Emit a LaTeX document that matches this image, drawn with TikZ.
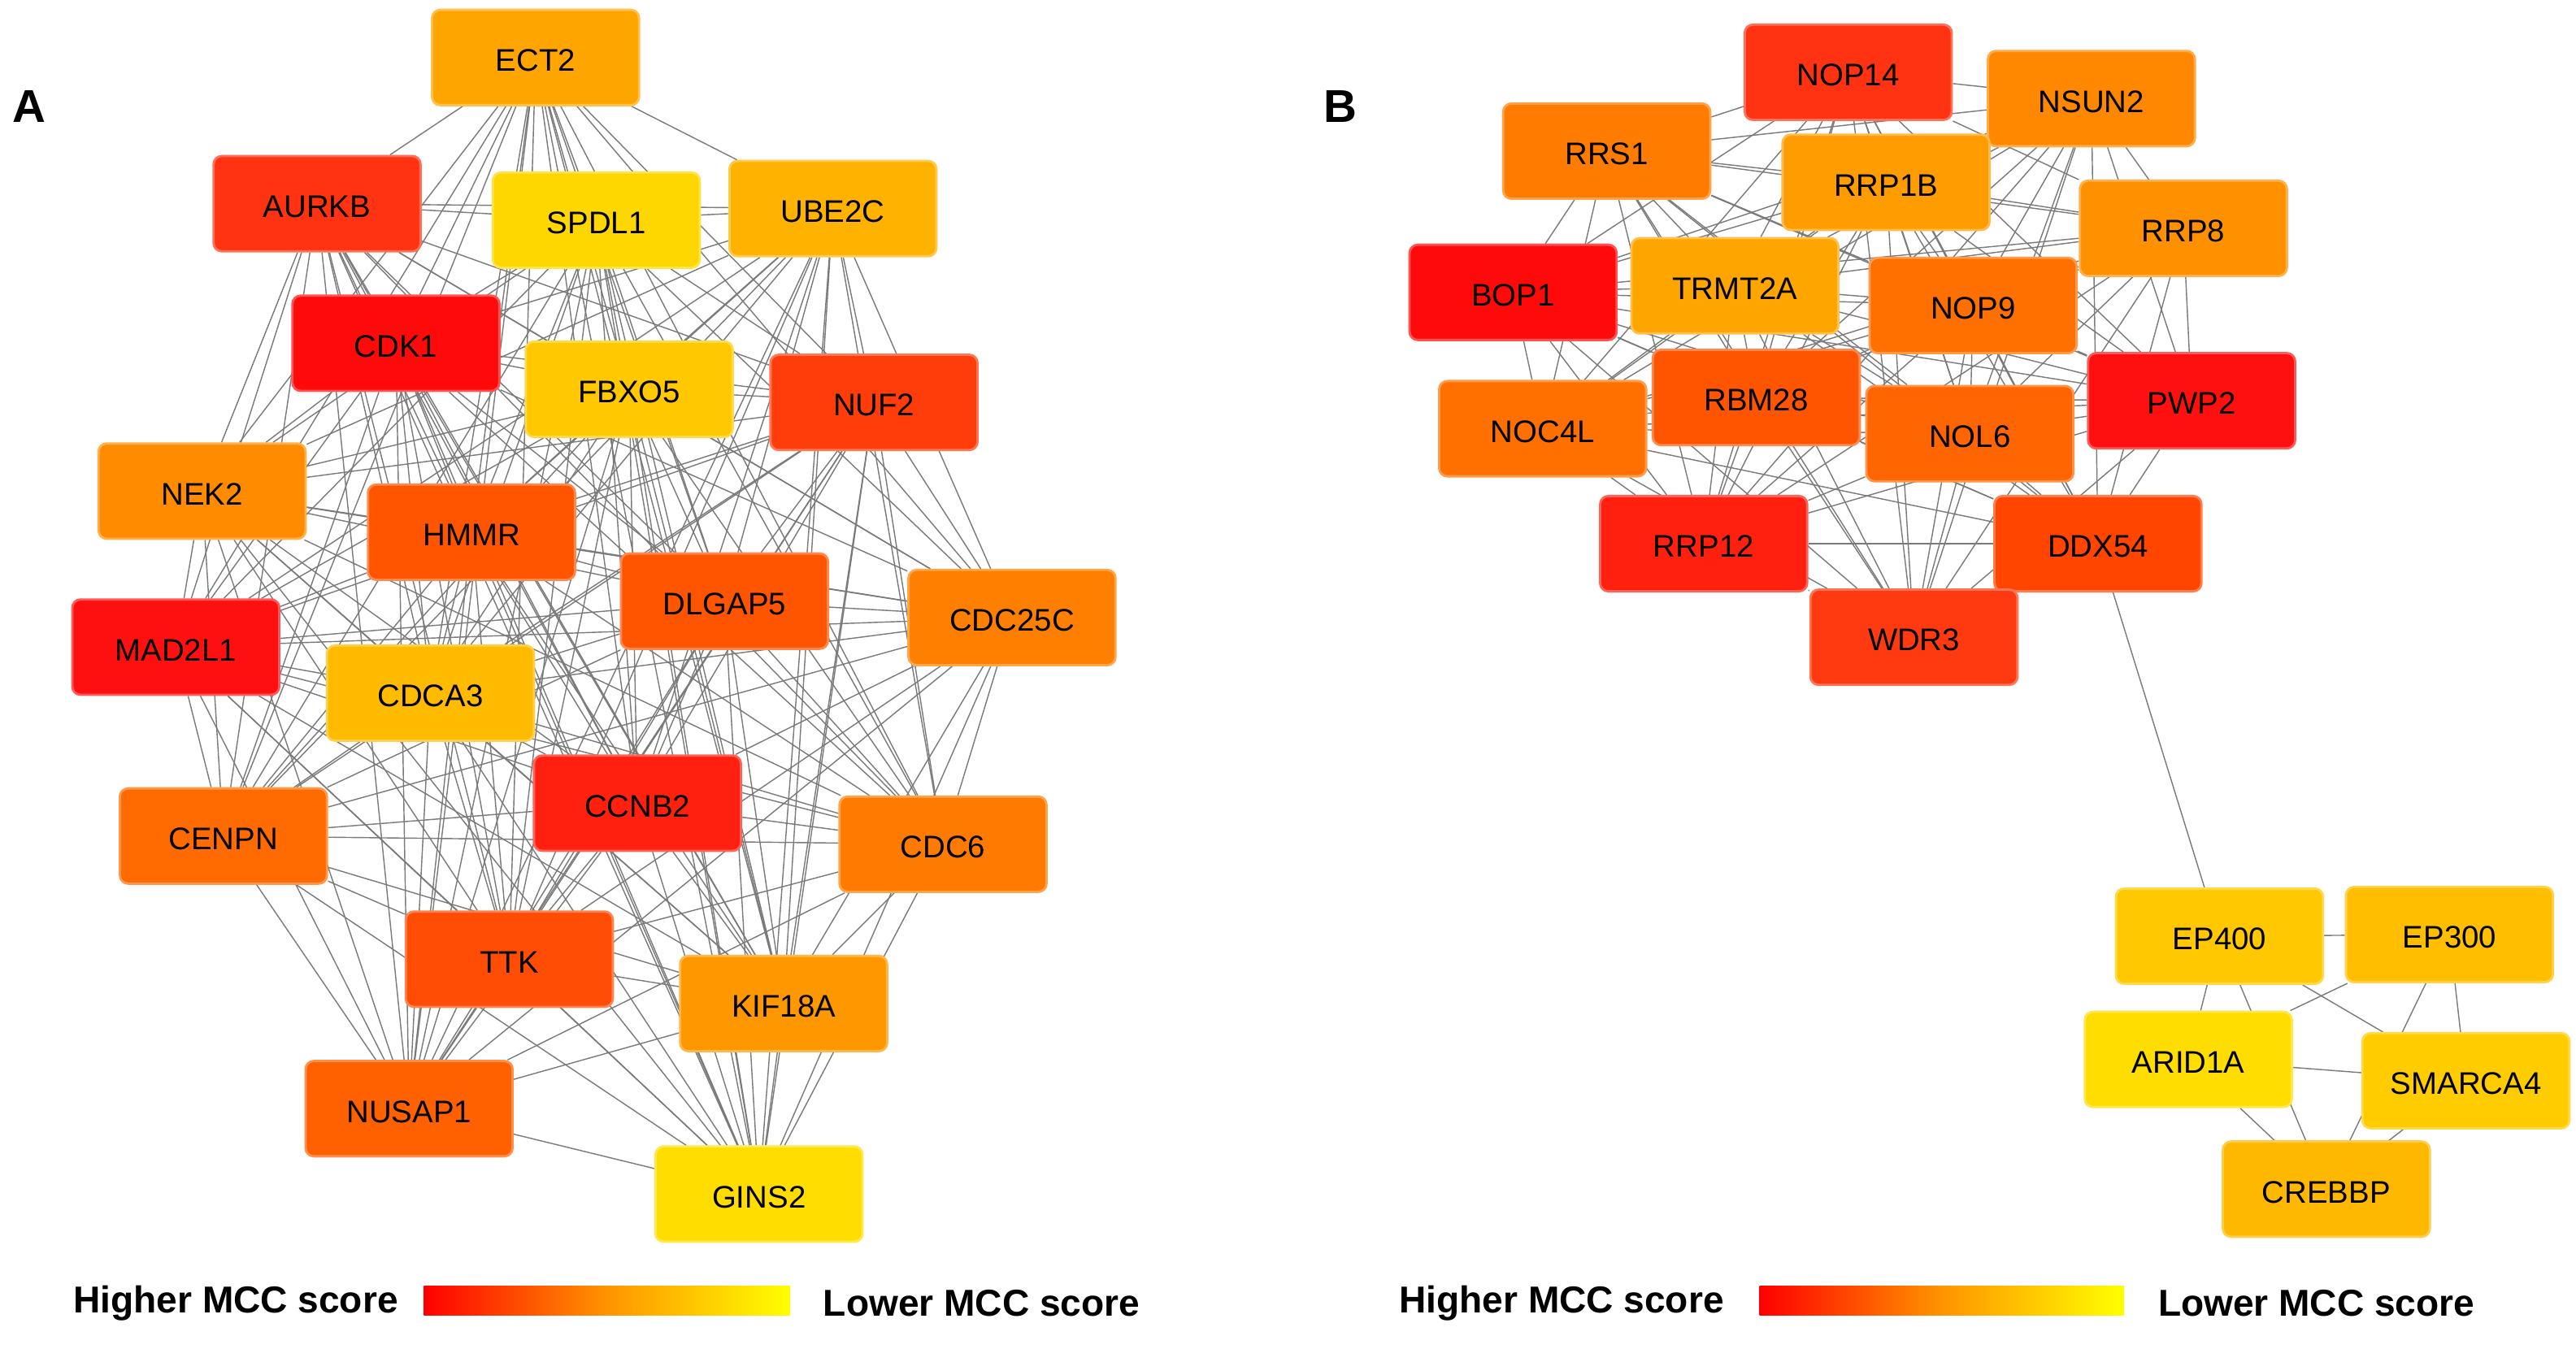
\documentclass[tikz,border=0pt]{standalone}
\usepackage{fontspec}
\setmainfont{Liberation Sans}
\usetikzlibrary{backgrounds}
\pgfdeclarelayer{edges}
\pgfsetlayers{background,edges,main}
% panel A colours
\definecolor{cECT2}{HTML}{FFA500}
\definecolor{cAURKB}{HTML}{FF3311}
\definecolor{cSPDL1}{HTML}{FFD700}
\definecolor{cUBE2C}{HTML}{FFB300}
\definecolor{cCDK1}{HTML}{FF0A0A}
\definecolor{cFBXO5}{HTML}{FFC800}
\definecolor{cNUF2}{HTML}{FF3D0A}
\definecolor{cNEK2}{HTML}{FF8C00}
\definecolor{cHMMR}{HTML}{FF5500}
\definecolor{cDLGAP5}{HTML}{FF5500}
\definecolor{cCDC25C}{HTML}{FF8000}
\definecolor{cMAD2L1}{HTML}{FF1010}
\definecolor{cCDCA3}{HTML}{FFBB00}
\definecolor{cCCNB2}{HTML}{FF2010}
\definecolor{cCENPN}{HTML}{FF6B00}
\definecolor{cCDC6}{HTML}{FF7A00}
\definecolor{cTTK}{HTML}{FF4D05}
\definecolor{cKIF18A}{HTML}{FF9800}
\definecolor{cNUSAP1}{HTML}{FF6000}
\definecolor{cGINS2}{HTML}{FFDD00}
% panel B colours
\definecolor{cNOP14}{HTML}{FF3311}
\definecolor{cNSUN2}{HTML}{FF8800}
\definecolor{cRRS1}{HTML}{FF7C00}
\definecolor{cRRP1B}{HTML}{FF9C00}
\definecolor{cRRP8}{HTML}{FF9000}
\definecolor{cBOP1}{HTML}{FF0A0A}
\definecolor{cTRMT2A}{HTML}{FFA500}
\definecolor{cNOP9}{HTML}{FF7000}
\definecolor{cNOC4L}{HTML}{FF7000}
\definecolor{cRBM28}{HTML}{FF5500}
\definecolor{cNOL6}{HTML}{FF6500}
\definecolor{cPWP2}{HTML}{FF1010}
\definecolor{cRRP12}{HTML}{FF2010}
\definecolor{cDDX54}{HTML}{FF4500}
\definecolor{cWDR3}{HTML}{FF3A10}
\definecolor{cEP400}{HTML}{FFC800}
\definecolor{cEP300}{HTML}{FFBE00}
\definecolor{cARID1A}{HTML}{FFDD00}
\definecolor{cSMARCA4}{HTML}{FFCC00}
\definecolor{cCREBBP}{HTML}{FFB800}
\definecolor{linkgray}{HTML}{7A7A7A}
\definecolor{midorange}{HTML}{FF9400}
\tikzset{
  gene/.style={rectangle, rounded corners=2.5pt, minimum width=63pt, minimum height=29pt,
    inner sep=0pt, line width=0.7pt, text height=8.3pt, text depth=0pt,
    font=\fontsize{9.5}{11}\selectfont, text=black},
  g/.style={gene, fill=#1, draw=#1!70!white},
  link/.style={draw=linkgray, line width=0.35pt},
  legendtext/.style={font=\bfseries\fontsize{11.4}{13}\selectfont, inner sep=0pt},
  panellabel/.style={font=\bfseries\fontsize{14}{16}\selectfont, inner sep=0pt}
}
\begin{document}
\begin{tikzpicture}[x=0.5pt,y=-0.5pt]
\useasboundingbox (0,0) rectangle (1568,821);
\begin{pgfonlayer}{background}
\fill[white] (0,0) rectangle (1568,821);
\end{pgfonlayer}
% ---------- Panel A ----------
\node[panellabel] (labA) at (18,65) {A};
\node[g=cECT2]   (ECT2)   at (326,35)  {ECT2};
\node[g=cAURKB]  (AURKB)  at (193,124) {AURKB};
\node[g=cSPDL1]  (SPDL1)  at (363,134) {SPDL1};
\node[g=cUBE2C]  (UBE2C)  at (507,127) {UBE2C};
\node[g=cCDK1]   (CDK1)   at (241,209) {CDK1};
\node[g=cFBXO5]  (FBXO5)  at (383,237) {FBXO5};
\node[g=cNUF2]   (NUF2)   at (532,245) {NUF2};
\node[g=cNEK2]   (NEK2)   at (123,299) {NEK2};
\node[g=cHMMR]   (HMMR)   at (287,324) {HMMR};
\node[g=cDLGAP5] (DLGAP5) at (441,366) {DLGAP5};
\node[g=cCDC25C] (CDC25C) at (616,376) {CDC25C};
\node[g=cMAD2L1] (MAD2L1) at (107,394) {MAD2L1};
\node[g=cCDCA3]  (CDCA3)  at (262,422) {CDCA3};
\node[g=cCCNB2]  (CCNB2)  at (388,489) {CCNB2};
\node[g=cCENPN]  (CENPN)  at (136,509) {CENPN};
\node[g=cCDC6]   (CDC6)   at (574,514) {CDC6};
\node[g=cTTK]    (TTK)    at (310,584) {TTK};
\node[g=cKIF18A] (KIF18A) at (477,611) {KIF18A};
\node[g=cNUSAP1] (NUSAP1) at (249,675) {NUSAP1};
\node[g=cGINS2]  (GINS2)  at (462,727) {GINS2};
% ---------- Panel B ----------
\node[panellabel] (labB) at (816,65) {B};
\node[g=cNOP14]  (NOP14)  at (1125,44)  {NOP14};
\node[g=cNSUN2]  (NSUN2)  at (1273,60)  {NSUN2};
\node[g=cRRS1]   (RRS1)   at (978,92)   {RRS1};
\node[g=cRRP1B]  (RRP1B)  at (1148,111) {RRP1B};
\node[g=cRRP8]   (RRP8)   at (1329,139) {RRP8};
\node[g=cBOP1]   (BOP1)   at (921,178)  {BOP1};
\node[g=cTRMT2A] (TRMT2A) at (1056,174) {TRMT2A};
\node[g=cNOP9]   (NOP9)   at (1201,186) {NOP9};
\node[g=cNOC4L]  (NOC4L)  at (939,261)  {NOC4L};
\node[g=cRBM28]  (RBM28)  at (1069,242) {RBM28};
\node[g=cNOL6]   (NOL6)   at (1199,264) {NOL6};
\node[g=cPWP2]   (PWP2)   at (1334,244) {PWP2};
\node[g=cRRP12]  (RRP12)  at (1037,331) {RRP12};
\node[g=cDDX54]  (DDX54)  at (1277,331) {DDX54};
\node[g=cWDR3]   (WDR3)   at (1165,388) {WDR3};
\node[g=cEP400]  (EP400)  at (1351,570) {EP400};
\node[g=cEP300]  (EP300)  at (1491,569) {EP300};
\node[g=cARID1A] (ARID1A) at (1332,645) {ARID1A};
\node[g=cSMARCA4](SMARCA4)at (1501,658) {SMARCA4};
\node[g=cCREBBP] (CREBBP) at (1416,724) {CREBBP};
% ---------- edges ----------
\begin{pgfonlayer}{edges}
\def\listA{ECT2,AURKB,SPDL1,UBE2C,CDK1,FBXO5,NUF2,NEK2,HMMR,DLGAP5,CDC25C,MAD2L1,CDCA3,CCNB2,CENPN,CDC6,TTK,KIF18A,NUSAP1,GINS2}
\foreach \a [count=\i] in \listA {
  \foreach \b [count=\j] in \listA {
    \ifnum\j>\i \draw[link] (\a) -- (\b); \fi
  }
}
\def\listB{NOP14,NSUN2,RRS1,RRP1B,RRP8,BOP1,TRMT2A,NOP9,NOC4L,RBM28,NOL6,PWP2,RRP12,DDX54,WDR3}
\foreach \a [count=\i] in \listB {
  \foreach \b [count=\j] in \listB {
    \ifnum\j>\i \draw[link] (\a) -- (\b); \fi
  }
}
\def\listC{EP400,EP300,ARID1A,SMARCA4,CREBBP}
\foreach \a [count=\i] in \listC {
  \foreach \b [count=\j] in \listC {
    \ifnum\j>\i \draw[link] (\a) -- (\b); \fi
  }
}
\draw[link] (DDX54) -- (EP400);
\end{pgfonlayer}
% ---------- legends ----------
\node[legendtext] (hiA) at (143.5,793.5) {Higher MCC score};
\node[inner sep=0pt, minimum width=111.5pt, minimum height=9pt,
      left color=red, right color=yellow, middle color=midorange] (barA) at (369.5,792) {};
\node[legendtext] (loA) at (597.5,793.5) {Lower MCC score};
\node[legendtext] (hiB) at (950.5,793.5) {Higher MCC score};
\node[inner sep=0pt, minimum width=111pt, minimum height=9pt,
      left color=red, right color=yellow, middle color=midorange] (barB) at (1182,792) {};
\node[legendtext] (loB) at (1410,793.5) {Lower MCC score};
\end{tikzpicture}
\end{document}
